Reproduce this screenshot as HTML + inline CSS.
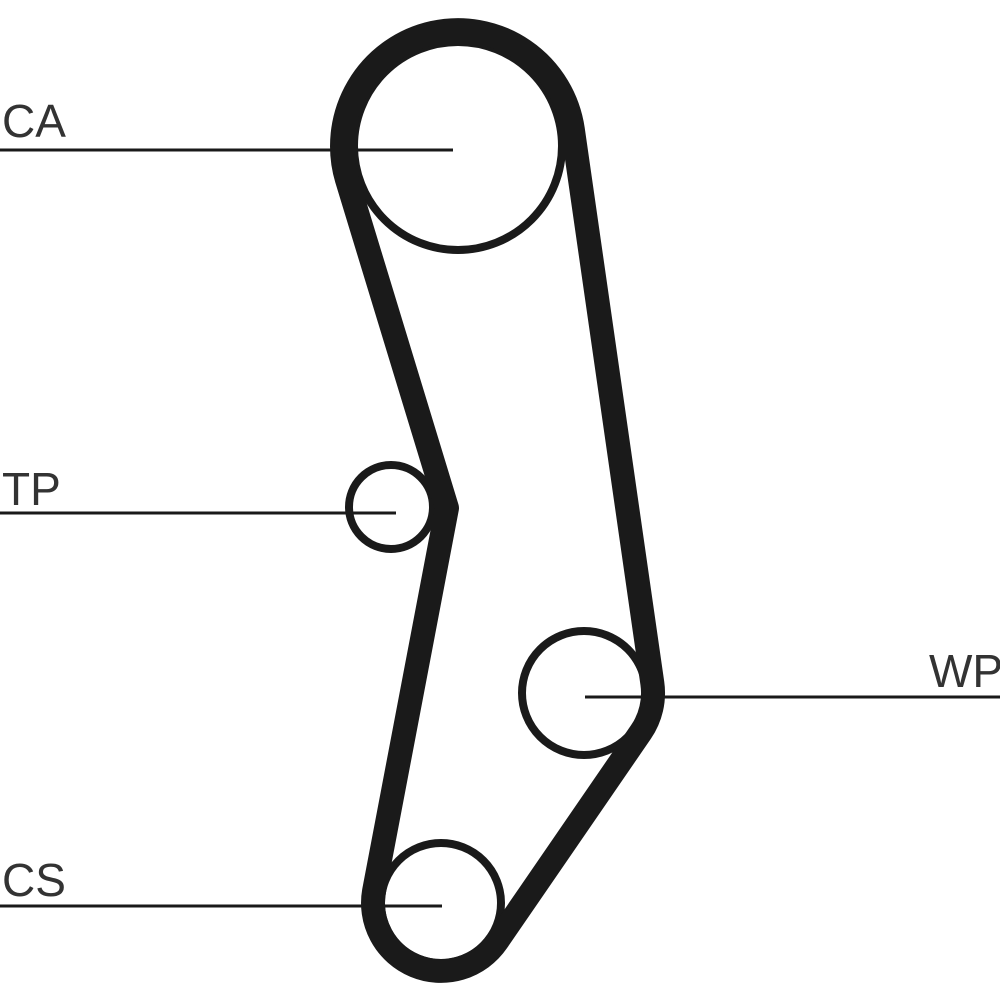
<!DOCTYPE html>
<html><head><meta charset="utf-8"><style>
html,body{margin:0;padding:0;background:#fff;}
svg{display:block;}
text{font-family:"Liberation Sans",sans-serif;font-size:46px;fill:#333;}
</style></head><body>
<svg width="1000" height="1000" viewBox="0 0 1000 1000" xmlns="http://www.w3.org/2000/svg">
<rect width="1000" height="1000" fill="#fff"/>
<g fill="none" stroke="#1a1a1a">
<circle cx="458" cy="146" r="104" stroke-width="8"/>
<circle cx="391" cy="507" r="42" stroke-width="8"/>
<circle cx="584" cy="693" r="62" stroke-width="8"/>
<circle cx="441" cy="903" r="60" stroke-width="8"/>
<path d="M346.9,179.4 A116 116 0 1 1 572.8,129.3 L652.3,683 A69 69 0 0 1 640.9,732.1 L497,941.5 A68 68 0 0 1 374.2,890.3 L447,508 Z" stroke-width="24" stroke-linejoin="round"/>
<g stroke-width="3">
<line x1="0" y1="150" x2="453" y2="150"/>
<line x1="0" y1="513" x2="396" y2="513"/>
<line x1="585" y1="697" x2="1000" y2="697"/>
<line x1="0" y1="906" x2="442" y2="906"/>
</g>
</g>
<text x="2" y="137">CA</text>
<text x="2" y="505">TP</text>
<text x="929" y="687">WP</text>
<text x="2" y="896">CS</text>
</svg>
</body></html>
